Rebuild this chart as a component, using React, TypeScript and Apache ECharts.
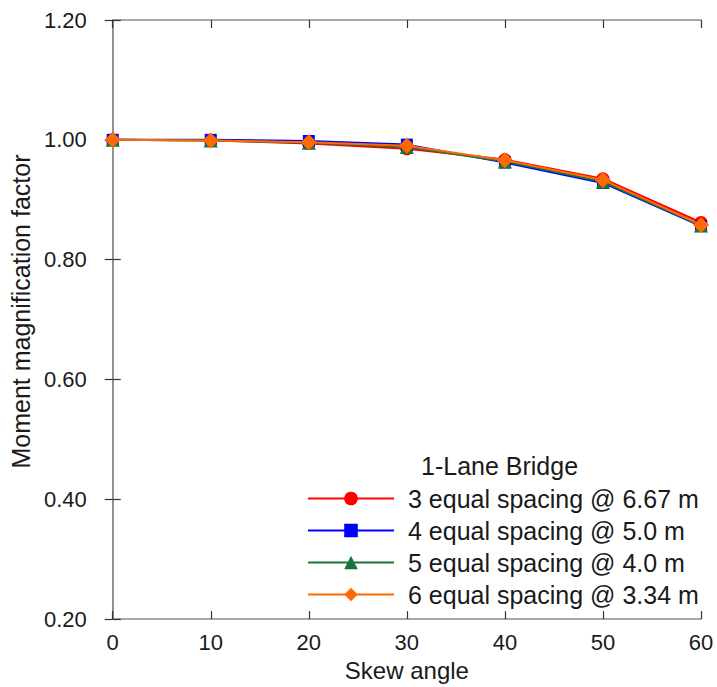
import React, { useEffect, useRef } from "react";
import * as echarts from "echarts";

const skewAngles = [0, 10, 20, 30, 40, 50, 60];
const seriesNames = [
  "3 equal spacing @ 6.67 m",
  "4 equal spacing @ 5.0 m",
  "5 equal spacing @ 4.0 m",
  "6 equal spacing @ 3.34 m",
];
const spacing3 = [1.0, 0.999, 0.994, 0.985, 0.967, 0.935, 0.862];
const spacing4 = [1.0, 1.0, 0.998, 0.992, 0.962, 0.928, 0.856];
const spacing5 = [1.0, 0.999, 0.995, 0.988, 0.964, 0.93, 0.857];
const spacing6 = [1.0, 0.999, 0.996, 0.99, 0.966, 0.933, 0.858];
const yTicks = [0.2, 0.4, 0.6, 0.8, 1.0, 1.2];
const legendTitle = "1-Lane Bridge";

const colors = ["#ff0000", "#0000ff", "#1b7437", "#ff6a00"];
const symbols = ["circle", "rect", "triangle", "diamond"];
const symbolSizes = [13, 12, 14, 16];

const FONT = "'Liberation Sans', Arial, sans-serif";

export default function App() {
  const ref = useRef<HTMLDivElement>(null);
  useEffect(() => {
    document.body.style.margin = "0";
    if (!ref.current) return;
    const chart = echarts.init(ref.current, undefined, { renderer: "svg" });
    const values = [spacing3, spacing4, spacing5, spacing6];
    const axisLine = { show: true, lineStyle: { color: "#8a8a8a", width: 1.5 } };
    const tick = { show: true, inside: true, length: 8, lineStyle: { color: "#333", width: 1.2 } };
    chart.setOption({
      animation: false,
      backgroundColor: "#ffffff",
      textStyle: { fontFamily: FONT },
      grid: { left: 112, right: 16, top: 20, bottom: 67, containLabel: false },
      xAxis: [
        {
          type: "value",
          min: 0,
          max: 60,
          interval: 10,
          position: "bottom",
          name: "Skew angle",
          nameLocation: "middle",
          nameGap: 33,
          nameTextStyle: { fontSize: 24, color: "#1a1a1a", fontFamily: FONT },
          axisLine,
          axisTick: tick,
          splitLine: { show: false },
          axisLabel: { fontSize: 22, color: "#1a1a1a", margin: 12, fontFamily: FONT },
        },
        {
          type: "value",
          min: 0,
          max: 60,
          interval: 10,
          position: "top",
          axisLine,
          axisTick: tick,
          splitLine: { show: false },
          axisLabel: { show: false },
        },
      ],
      yAxis: [
        {
          type: "value",
          min: yTicks[0],
          max: yTicks[yTicks.length - 1],
          interval: 0.2,
          position: "left",
          name: "Moment magnification factor",
          nameLocation: "middle",
          nameGap: 77,
          nameTextStyle: {
            fontSize: 25,
            color: "#1a1a1a",
            fontFamily: FONT,
            padding: [0, 0, 0, 16],
          },
          axisLine,
          axisTick: tick,
          splitLine: { show: false },
          axisLabel: {
            fontSize: 22,
            color: "#1a1a1a",
            margin: 26,
            fontFamily: FONT,
            formatter: (v: number) => v.toFixed(2),
          },
        },
        {
          type: "value",
          min: yTicks[0],
          max: yTicks[yTicks.length - 1],
          interval: 0.2,
          position: "right",
          axisLine,
          axisTick: tick,
          splitLine: { show: false },
          axisLabel: { show: false },
        },
      ],
      legend: {
        orient: "vertical",
        left: 307,
        top: 486,
        itemWidth: 86,
        itemHeight: 17,
        itemGap: 7,
        padding: 0,
        data: seriesNames,
        textStyle: {
          fontSize: 25,
          lineHeight: 24,
          color: "#1a1a1a",
          fontFamily: FONT,
          padding: [0, 0, 0, 9],
        },
      },
      graphic: [
        {
          type: "text",
          left: 421,
          top: 453,
          style: {
            text: legendTitle,
            fontSize: 25,
            fontFamily: FONT,
            fill: "#1a1a1a",
          },
        },
      ],
      series: seriesNames.map((name, i) => ({
        name,
        type: "line",
        xAxisIndex: 0,
        yAxisIndex: 0,
        data: skewAngles.map((x, j) => [x, values[i][j]]),
        symbol: symbols[i],
        symbolSize: symbolSizes[i],
        showAllSymbol: true,
        color: colors[i],
        lineStyle: { color: colors[i], width: 2 },
        itemStyle: { color: colors[i] },
        z: 2 + i,
      })),
    });
    return () => chart.dispose();
  }, []);
  return <div ref={ref} style={{ width: 717, height: 687 }} />;
}
